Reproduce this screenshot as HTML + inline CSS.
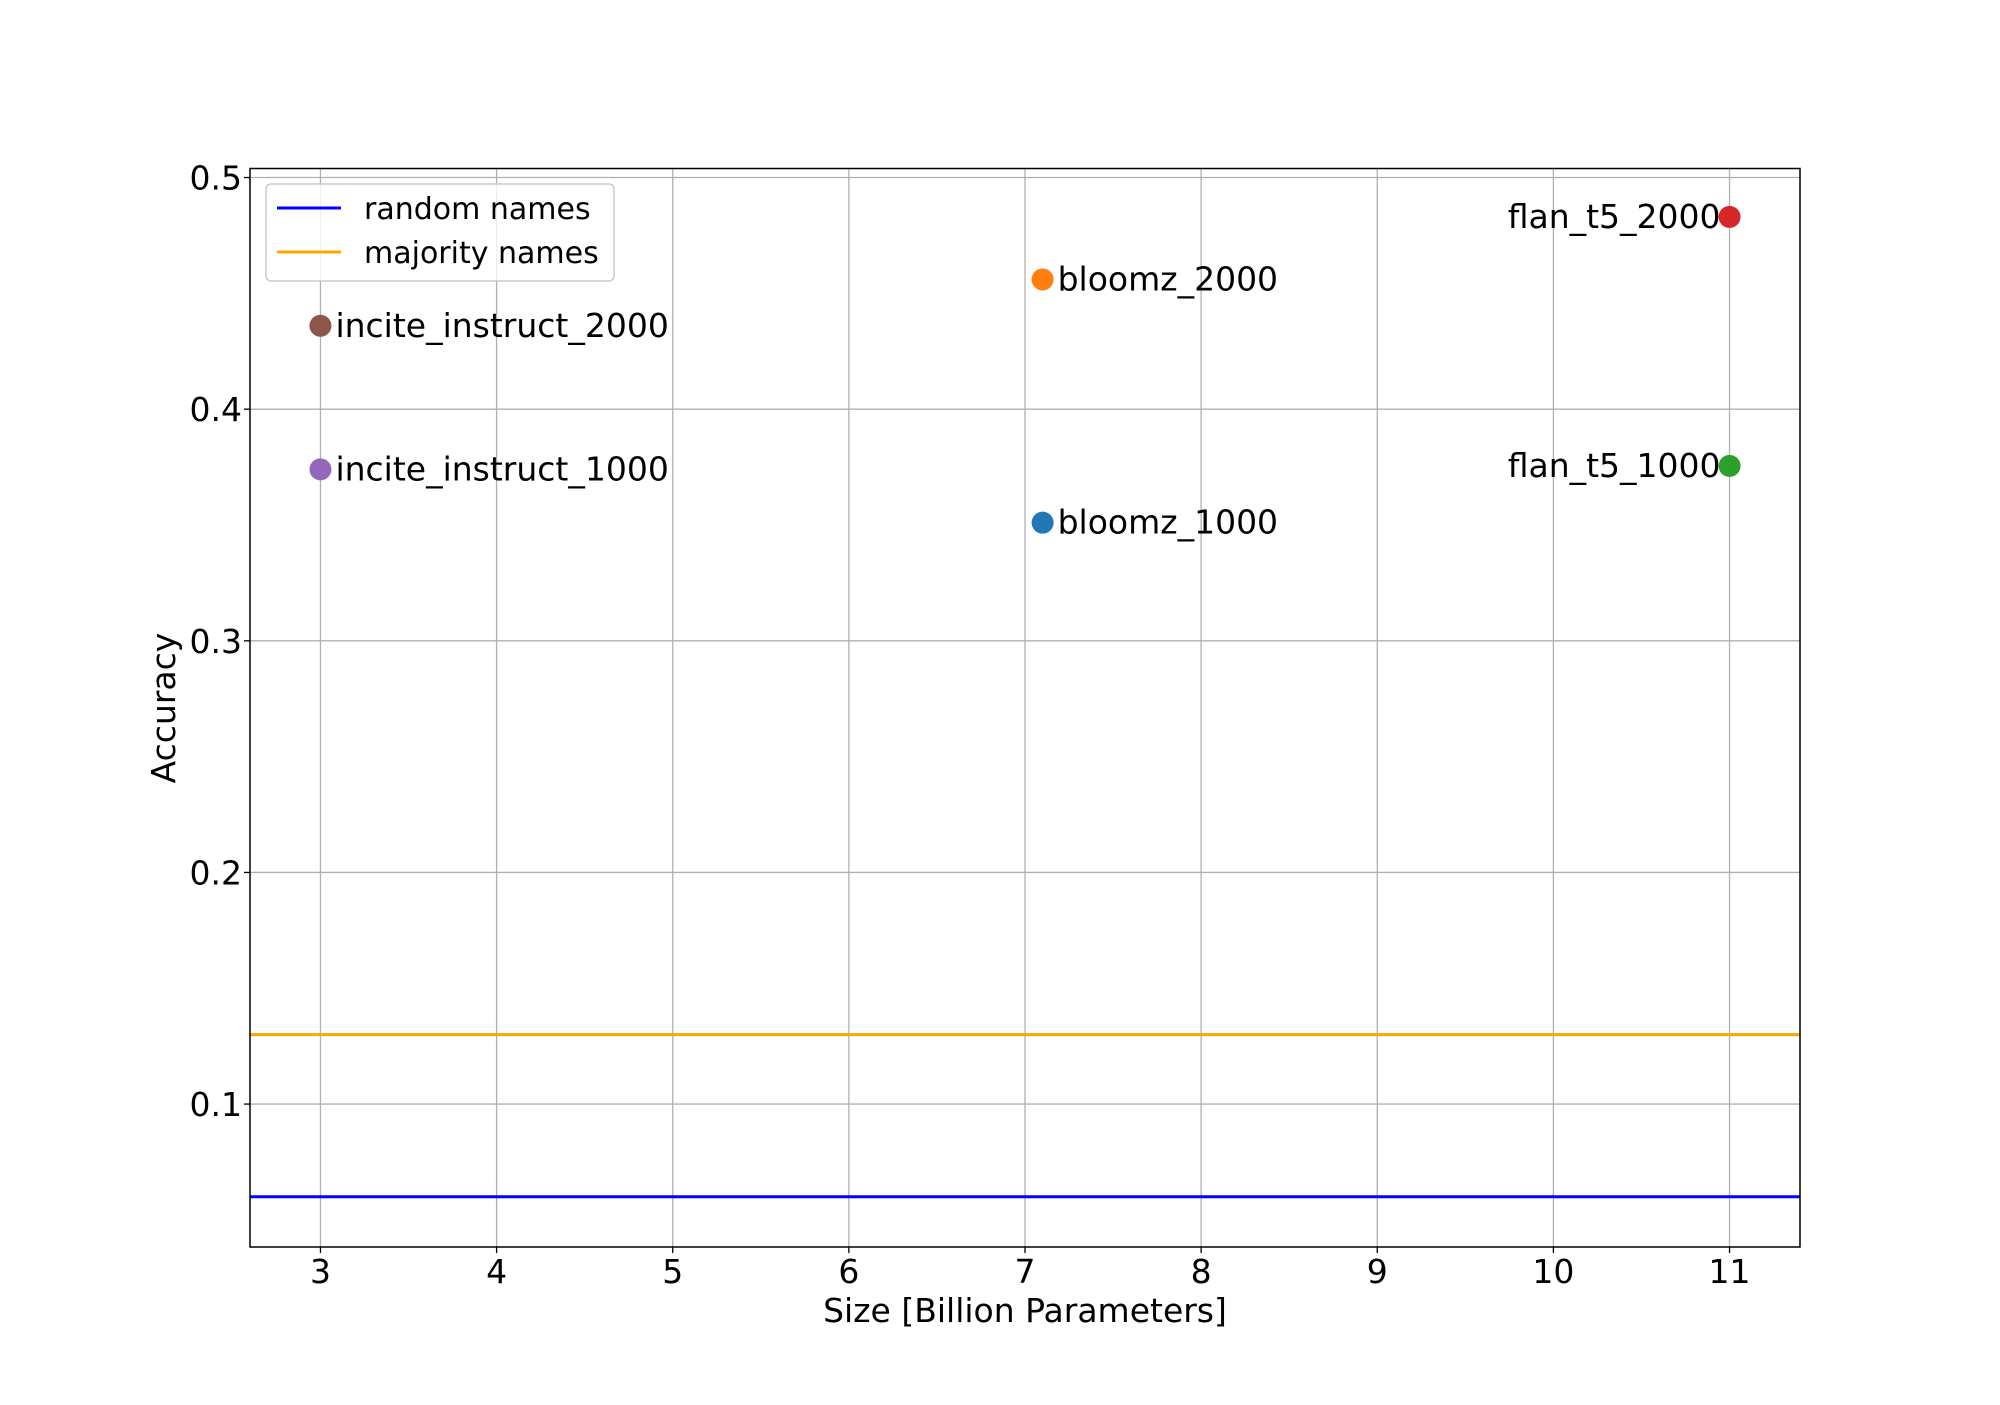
<!DOCTYPE html>
<html><head><meta charset="utf-8"><style>
body{margin:0;background:#fff}
svg text{font-family:"DejaVu Sans","Liberation Sans",sans-serif;fill:#000}
</style></head><body>
<svg id="chart" width="2000" height="1400" xmlns="http://www.w3.org/2000/svg">
<rect width="2000" height="1400" fill="#fff"/>
<g id="grid"></g>
<g id="lines"></g>
<g id="points"></g>
<rect x="250" y="168.5" width="1550" height="1078.5" fill="none" stroke="#000" stroke-width="1.5"/>
<g id="ticks"></g>
<text x="1025" y="1322" font-size="33" text-anchor="middle">Size [Billion Parameters]</text>
<text x="0" y="0" font-size="33" text-anchor="middle" transform="translate(175,708) rotate(-90)">Accuracy</text>
<g>
<rect x="266" y="184" width="348" height="97" rx="5" fill="#fff" fill-opacity="0.8" stroke="#ccc" stroke-width="1.5"/>
<line x1="277" y1="208" x2="341" y2="208" stroke="#0000ff" stroke-width="3"/>
<text x="364" y="219" font-size="30">random names</text>
<line x1="277" y1="252" x2="341" y2="252" stroke="#ffa500" stroke-width="3"/>
<text x="364" y="263" font-size="30">majority names</text>
</g>
</svg>
<script>
const pointNames = ["bloomz_1000","bloomz_2000","flan_t5_1000","flan_t5_2000","incite_instruct_1000","incite_instruct_2000"];
const pointSizes = [7.1,7.1,11,11,3,3];
const pointAcc = [0.351,0.456,0.3755,0.483,0.374,0.436];
const pointColors = ["#1f77b4","#ff7f0e","#2ca02c","#d62728","#9467bd","#8c564b"];
const baselineNames = ["random names","majority names"];
const baselineValues = [0.06,0.13];
const baselineColors = ["#0000ff","#ffa500"];
const xTicks = [3,4,5,6,7,8,9,10,11];
const yTicks = [0.1,0.2,0.3,0.4,0.5];
const yTickLabels = ["0.1","0.2","0.3","0.4","0.5"];

const L=250,R=1800,T=168.5,B=1247;
const xMin=2.6,xMax=11.4,yMin=0.0383,yMax=0.5039;
const xs=v=>L+(v-xMin)/(xMax-xMin)*(R-L);
const ys=v=>B-(v-yMin)/(yMax-yMin)*(B-T);
const NS="http://www.w3.org/2000/svg";
function mk(tag,attrs,parent,txt){const e=document.createElementNS(NS,tag);for(const k in attrs)e.setAttribute(k,attrs[k]);if(txt!==undefined)e.textContent=txt;document.getElementById(parent).appendChild(e);return e;}

xTicks.forEach(t=>{
  let g=mk('line',{x1:xs(t),x2:xs(t),y1:T,y2:B,stroke:'#b0b0b0','stroke-width':1.3},'grid');
  
  
  let k=mk('line',{x1:xs(t),x2:xs(t),y1:B,y2:B+6,stroke:'#000','stroke-width':1.3},'ticks');
  
  
  let l=mk('text',{x:xs(t),y:B+36,'font-size':33,'text-anchor':'middle'},'ticks',String(t));
  
  
});
yTicks.forEach((t,i)=>{
  let g=mk('line',{x1:L,x2:R,y1:ys(t),y2:ys(t),stroke:'#b0b0b0','stroke-width':1.3},'grid');
  
  
  let k=mk('line',{x1:L-6,x2:L,y1:ys(t),y2:ys(t),stroke:'#000','stroke-width':1.3},'ticks');
  
  
  let l=mk('text',{x:L-8,y:ys(t)+12,'font-size':33,'text-anchor':'end'},'ticks',yTickLabels[i]);
  
  
});
baselineValues.forEach((v,i)=>{
  let ln=mk('line',{x1:L,x2:R,y1:ys(v),y2:ys(v),stroke:baselineColors[i],'stroke-width':3},'lines');
  
  
});
pointNames.forEach((n,i)=>{
  const cx=xs(pointSizes[i]),cy=ys(pointAcc[i]);
  let c=mk('circle',{cx:cx,cy:cy,r:11,fill:pointColors[i]},'points');
  
  
  const right=pointSizes[i]>=11;
  let t=mk('text',{x:right?cx-9:cx+15,y:cy+11,'font-size':33,'text-anchor':right?'end':'start'},'points',n);
  
  
});
</script>
</body></html>
